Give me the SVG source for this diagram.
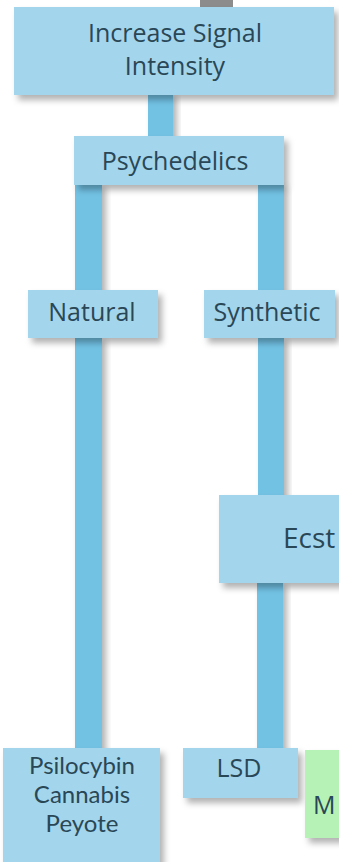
<svg xmlns="http://www.w3.org/2000/svg" width="339" height="862" viewBox="0 0 339 862">
  <defs>
    <filter id="sh" x="-20%" y="-20%" width="150%" height="160%">
      <feDropShadow dx="4" dy="5" stdDeviation="3" flood-color="#000" flood-opacity="0.3"/>
    </filter>
  </defs>
  <style>
    .box { fill: #A3D6EC; filter: url(#sh); }
    .green { fill: #B6F2B6; filter: url(#sh); }
    .conn { fill: #72C2E4; filter: url(#sh); }
    .t { font-family: "Open Sans", "Liberation Sans", sans-serif; font-size: 25px; fill: #2A4756; text-anchor: middle; }
    .l { font-family: Lato, "Open Sans", sans-serif; font-size: 24px; fill: #2A4756; text-anchor: middle; }
  </style>
  <rect x="0" y="0" width="339" height="862" fill="#FFFFFF"/>
  <g id="connectors">
    <rect x="200" y="0" width="33" height="10" fill="#8C8C8C"/>
    <rect class="conn" x="148" y="92" width="25" height="46"/>
    <rect class="conn" x="75" y="183" width="27" height="109"/>
    <rect class="conn" x="258" y="183" width="26" height="109"/>
    <rect class="conn" x="75" y="336" width="27" height="414"/>
    <rect class="conn" x="258" y="336" width="26" height="161"/>
    <rect class="conn" x="257" y="581" width="26" height="169"/>
  </g>
  <g id="increase">
    <rect class="box" x="14" y="7" width="320" height="88"/>
    <text class="t" x="175" y="42">Increase Signal</text>
    <text class="t" x="175" y="75">Intensity</text>
  </g>
  <g id="psychedelics">
    <rect class="box" x="74" y="136" width="210" height="49"/>
    <text class="t" x="175" y="170">Psychedelics</text>
  </g>
  <g id="natural">
    <rect class="box" x="28" y="290" width="130" height="48"/>
    <text class="t" x="92" y="321">Natural</text>
  </g>
  <g id="synthetic">
    <rect class="box" x="204" y="290" width="131" height="48"/>
    <text class="t" x="267" y="321">Synthetic</text>
  </g>
  <g id="ecstasy">
    <rect class="box" x="219" y="495" width="140" height="88"/>
    <text class="t" x="283" y="548" style="font-size:28px;text-anchor:start">Ecst</text>
  </g>
  <g id="natural-list">
    <rect class="box" x="3" y="748" width="157" height="130"/>
    <text class="l" x="82" y="774">Psilocybin</text>
    <text class="l" x="82" y="803">Cannabis</text>
    <text class="l" x="82" y="832">Peyote</text>
  </g>
  <g id="lsd">
    <rect class="box" x="183" y="748" width="115" height="50"/>
    <text class="t" x="239" y="777">LSD</text>
  </g>
  <g id="green">
    <rect class="green" x="305" y="750" width="60" height="88"/>
    <text class="t" x="313" y="814" style="text-anchor:start">M</text>
  </g>
</svg>
